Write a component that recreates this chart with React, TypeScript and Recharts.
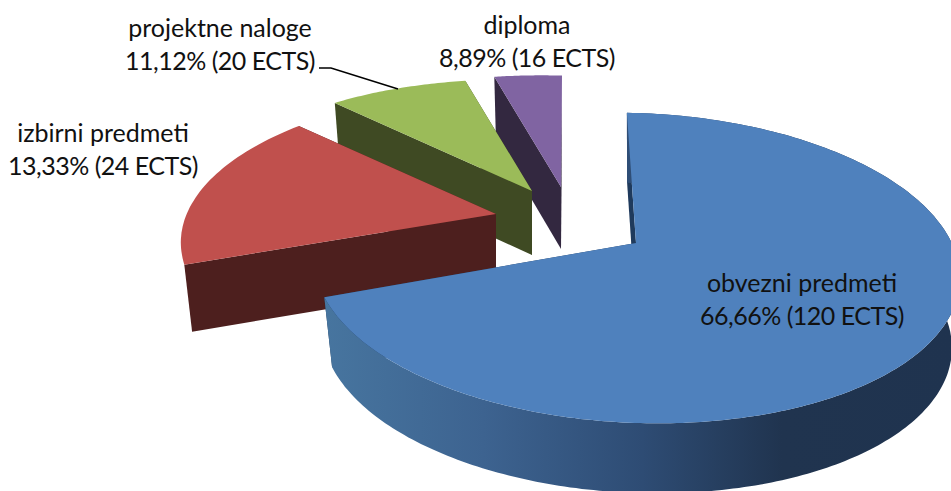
import React from 'react';
import { PieChart, Pie } from 'recharts';

// drawn back to front, so the list runs counterclockwise from the top
const categories = ['diploma', 'projektne naloge', 'izbirni predmeti', 'obvezni predmeti'];
const shares = [8.89, 11.12, 13.33, 66.66];
const credits = [16, 20, 24, 120];

const tableData = categories.map((name, i) => ({ name, value: shares[i] }));

// --- look of each slice, same order as categories ---
const topColors = ['#8064A2', '#9BBB59', '#C0504D', '#4F81BD'];
const wallColors = ['#332840', '#3F4A23', '#4D1F1E', '#1F3A5C'];
const explode = [[1, -28], [-28, -24], [-64, -1], [76, 28]];
const wallDepth = [62, 64, 67, 70];
const backSquash = [0.88, 0.88, 0.88, 1];
const rimBulge = [1, 1, 0.78, 1];
const labelAnchors = [[527, 24], [220, 27], [103, 132], [802, 282]];

// the old 3D pie is not a true ellipse: angles are bent by the perspective
const angleBend = [[0, -1.8], [240, 255.5], [288, 322.2], [328, 347.9], [360, 360]];

const ELLIPSE_HEIGHT = 155;
const ELLIPSE_TILT = 10;
const ELLIPSE_DROP = 25;
const WALL_SHRINK = 0.975;

const bend = (theta: number) => {
  for (let i = 1; i < angleBend.length; i++) {
    const [t0, p0] = angleBend[i - 1];
    const [t1, p1] = angleBend[i];
    if (theta <= t1) return p0 + ((theta - t0) / (t1 - t0)) * (p1 - p0);
  }
  return 360;
};

const toPath = (pts: number[][]) => 'M' + pts.map((p) => `${p[0].toFixed(1)},${p[1].toFixed(1)}`).join('L') + 'Z';

const Slice3D = (props: any) => {
  const { cx, cy, outerRadius, startAngle, endAngle, name } = props;
  const i = categories.indexOf(name);
  const ax = cx + explode[i][0];
  const ay = cy + explode[i][1];
  const isFront = name === 'obvezni predmeti';

  // recharts angle -> screen offset from the slice's own tip
  const rim = (angle: number) => {
    const phi = (bend(450 - angle) * Math.PI) / 180;
    return [
      1 + outerRadius * Math.sin(phi),
      ELLIPSE_DROP + backSquash[i] * (ELLIPSE_TILT * Math.sin(phi) - ELLIPSE_HEIGHT * Math.cos(phi)),
    ];
  };

  const rimStart = rim(startAngle);
  const rimEnd = rim(endAngle);
  const rimTop: number[][] = [];
  const rimBottom: number[][] = [];
  const steps = Math.ceil(Math.abs(endAngle - startAngle));
  for (let s = 0; s <= steps; s++) {
    const f = s / steps;
    const [rx, ry] = rim(startAngle + (endAngle - startAngle) * f);
    // pull the arc towards its chord where the slice looks flatter
    const chordX = rimStart[0] + (rimEnd[0] - rimStart[0]) * f;
    const chordY = rimStart[1] + (rimEnd[1] - rimStart[1]) * f;
    const dx = chordX + (rx - chordX) * rimBulge[i];
    const dy = chordY + (ry - chordY) * rimBulge[i];
    rimTop.push([ax + dx, ay + dy]);
    rimBottom.push([ax + dx * WALL_SHRINK, ay + dy + wallDepth[i]]);
  }

  const tip = [ax, ay];
  const tipLow = [ax, ay + wallDepth[i]];
  const last = rimTop.length - 1;

  return (
    <g>
      <path d={toPath([tip, rimTop[0], rimBottom[0], tipLow])} fill={wallColors[i]} />
      <path d={toPath([tip, rimTop[last], rimBottom[last], tipLow])} fill={wallColors[i]} />
      {isFront && <path d={toPath([...rimTop, ...[...rimBottom].reverse()])} fill="url(#blueWall)" />}
      <path d={toPath([tip, ...rimTop])} fill={topColors[i]} />
    </g>
  );
};

const SliceLabel = (props: any) => {
  const i = categories.indexOf(props.name);
  const [x, y] = labelAnchors[i];
  const percent = shares[i].toFixed(2).replace('.', ',');
  const textStyle = { fontFamily: 'Lato, sans-serif', fontSize: 25, fill: '#111111' };
  return (
    <g>
      <text x={x} y={y} textAnchor="middle" dominantBaseline="central" style={textStyle}>{categories[i]}</text>
      <text x={x} y={y + 33} textAnchor="middle" dominantBaseline="central" style={{ ...textStyle, letterSpacing: -0.5 }}>
        {`${percent}% (${credits[i]} ECTS)`}
      </text>
      {props.name === 'projektne naloge' && (
        <polyline points="319,68 331,68 398,89" fill="none" stroke="#000000" strokeWidth={1.5} />
      )}
    </g>
  );
};

export default function App() {
  return (
    <div style={{ position: 'absolute', left: 0, top: 0, width: 951, height: 491, background: '#ffffff' }}>
      <PieChart width={951} height={491} margin={{ top: 0, right: 0, bottom: 0, left: 0 }}>
        <defs>
          <linearGradient id="blueWall" x1="0" y1="0" x2="1" y2="0">
            <stop offset="0%" stopColor="#47759F" />
            <stop offset="25%" stopColor="#3D6390" />
            <stop offset="50%" stopColor="#2E4C74" />
            <stop offset="72%" stopColor="#20344F" />
            <stop offset="100%" stopColor="#1F334F" />
          </linearGradient>
        </defs>
        <Pie
          data={tableData}
          dataKey="value"
          nameKey="name"
          cx={560}
          cy={215}
          innerRadius={0}
          outerRadius={323}
          startAngle={90}
          endAngle={450}
          stroke="none"
          shape={Slice3D}
          label={SliceLabel}
          labelLine={false}
          isAnimationActive={false}
        />
      </PieChart>
    </div>
  );
}
